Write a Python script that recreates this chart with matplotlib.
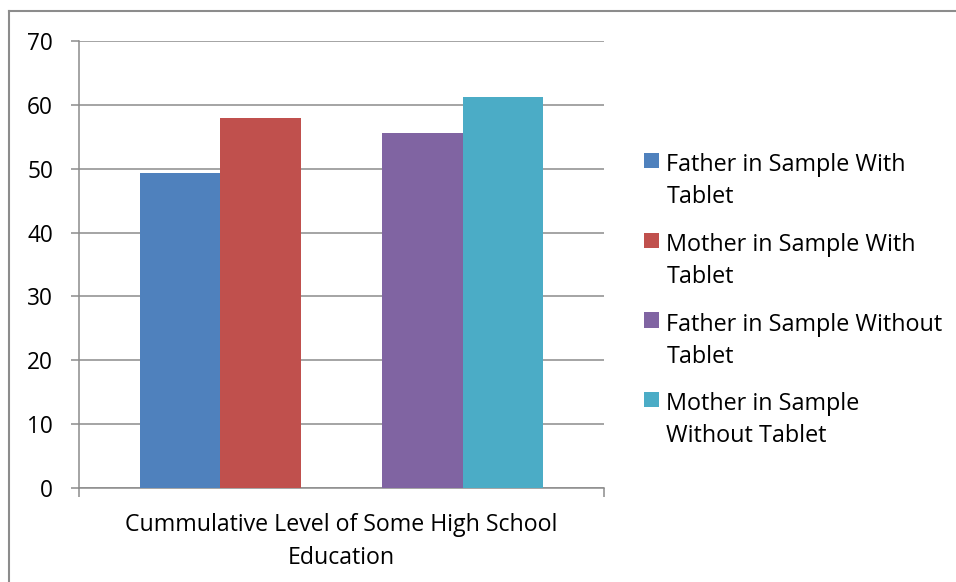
import matplotlib
matplotlib.use("Agg")
import matplotlib.pyplot as plt
from matplotlib.lines import Line2D
from matplotlib.patches import Rectangle
from matplotlib.legend_handler import HandlerPatch

plt.rcParams['font.family'] = ['Open Sans', 'DejaVu Sans']

series = ["Father in Sample With\nTablet", "Mother in Sample With\nTablet",
          "Father in Sample Without\nTablet", "Mother in Sample\nWithout Tablet"]
values = [49.3, 57.9, 55.6, 61.2]
colors = ["#4F81BD", "#C0504D", "#8064A2", "#4BACC6"]
category = "Cummulative Level of Some High School\nEducation"
yticks = [0, 10, 20, 30, 40, 50, 60, 70]

W, H = 956, 582
LEG_FS = 16.8
LEG_LS = 1.44
SHIFT_PT = 32 * 0.72 - 7.5  # move square up to the first text line


class FirstLineHandler(HandlerPatch):
    """Place the legend square beside the first line of a two-line label."""
    def create_artists(self, legend, orig_handle, xdescent, ydescent, width,
                       height, fontsize, trans):
        p = Rectangle((-xdescent, -ydescent + SHIFT_PT), width, height)
        self.update_prop(p, orig_handle, legend)
        p.set_transform(trans)
        return [p]


fig = plt.figure(figsize=(W / 100, H / 100), dpi=100)
ax = fig.add_axes([79 / W, (H - 488) / H, (604 - 79) / W, (488 - 41) / H])

offsets = [-2, -1, 1, 2]
bars = []
for off, v, c, lab in zip(offsets, values, colors, series):
    b = ax.bar(off, v, width=1.0, color=c, label=lab, zorder=3)
    bars.append(b)

ax.set_xlim(-3.25, 3.25)
ax.set_ylim(0, 70)
ax.set_yticks(yticks)
ax.yaxis.grid(True, color="#8c8c8c", linewidth=1.1, zorder=0)
for s in ["top", "right"]:
    ax.spines[s].set_visible(False)
for s in ["left", "bottom"]:
    ax.spines[s].set_color("#8c8c8c")
    ax.spines[s].set_linewidth(1.1)
ax.tick_params(axis="y", direction="out", length=6, width=1.1, color="#8c8c8c",
               labelsize=16.3, pad=12.7)
ax.set_xticks([0])
ax.set_xticklabels([category], fontsize=16.7, linespacing=1.48)
ax.set_xticks([-3.25, 3.25], minor=True)
ax.tick_params(axis="x", which="major", length=0, pad=18)
ax.tick_params(axis="x", which="minor", direction="out", length=6.5, width=1.1,
               color="#8c8c8c")

handles = [b[0] for b in bars]
leg = fig.legend(handles=handles, labels=series, loc="upper left",
                 bbox_to_anchor=(635 / W, 1 - 144 / H), frameon=False,
                 fontsize=LEG_FS, handlelength=0.64, handleheight=0.64,
                 handletextpad=0.3, labelspacing=1.02, borderaxespad=0,
                 handler_map={h: FirstLineHandler() for h in handles})
for t in leg.get_texts():
    t.set_linespacing(LEG_LS)

# chart border (top and left edges visible)
fig.add_artist(Line2D([9 / W, 1], [1 - 11 / H, 1 - 11 / H], color="#8c8c8c",
                      linewidth=1.5, transform=fig.transFigure))
fig.add_artist(Line2D([9 / W, 9 / W], [0, 1 - 11 / H], color="#8c8c8c",
                      linewidth=1.5, transform=fig.transFigure))

fig.savefig("out.png", dpi=100, facecolor="white")
